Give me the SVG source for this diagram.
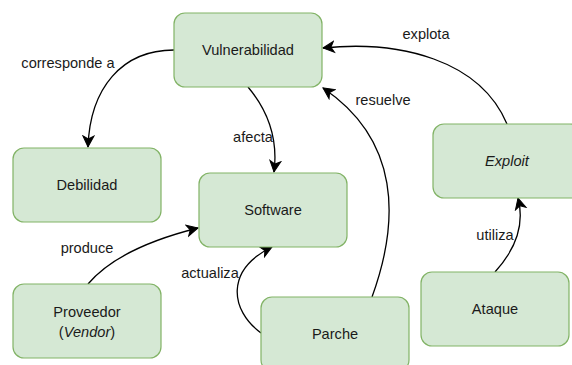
<svg xmlns="http://www.w3.org/2000/svg" width="572" height="365" viewBox="0 0 572 365">
<style>
.n rect{fill:#d5e8d4;stroke:#82b366;stroke-width:1.2}
text{font-family:"Liberation Sans",Arial,sans-serif;font-size:14.6px;fill:#1a1a1a;text-anchor:middle;dominant-baseline:central}
.e path{fill:none;stroke:#000;stroke-width:1.3;marker-end:url(#a)}
</style>
<defs>
<marker id="a" markerUnits="userSpaceOnUse" markerWidth="14" markerHeight="14" viewBox="0 0 14 14" refX="12" refY="7" orient="auto">
<path d="M1,1.5 L12,7 L1,12.5 L4,7 Z" fill="#000" stroke="#000" stroke-width="1"/>
</marker>
</defs>
<rect width="572" height="365" fill="#fff"/>
<g class="e" id="connectors">
<path d="M174,50 C122,50 90,88 88,147"/>
<path d="M248,87 Q280,125 274,172"/>
<path d="M507,124 C480,60 400,40 323,48"/>
<path d="M372,297 C400,220 400,140 323,88"/>
<path d="M88,284 C110,258 150,240 198,228"/>
<path d="M261,333 C230,310 225,270 272,247"/>
<path d="M495,272 C515,250 525,225 518,198"/>
</g>
<g id="labels">
<text x="68" y="63">corresponde a</text>
<text x="253" y="137">afecta</text>
<text x="426" y="34">explota</text>
<text x="383" y="100">resuelve</text>
<text x="87" y="248">produce</text>
<text x="210" y="273">actualiza</text>
<text x="495" y="235">utiliza</text>
</g>
<g class="n" id="vulnerabilidad"><rect x="174" y="13" width="148" height="74" rx="11"/><text x="248" y="50">Vulnerabilidad</text></g>
<g class="n" id="debilidad"><rect x="13" y="148" width="148" height="74" rx="11"/><text x="87" y="185">Debilidad</text></g>
<g class="n" id="software"><rect x="199" y="173" width="148" height="74" rx="11"/><text x="273" y="210">Software</text></g>
<g class="n" id="exploit"><rect x="433" y="124" width="148" height="74" rx="11"/><text x="507" y="161" font-style="italic">Exploit</text></g>
<g class="n" id="proveedor"><rect x="13" y="284" width="148" height="74" rx="11"/><text x="87" y="312">Proveedor</text><text x="87" y="332">(<tspan font-style="italic">Vendor</tspan>)</text></g>
<g class="n" id="parche"><rect x="261" y="297" width="148" height="74" rx="11"/><text x="335" y="334">Parche</text></g>
<g class="n" id="ataque"><rect x="421" y="272" width="148" height="74" rx="11"/><text x="495" y="309">Ataque</text></g>
</svg>
